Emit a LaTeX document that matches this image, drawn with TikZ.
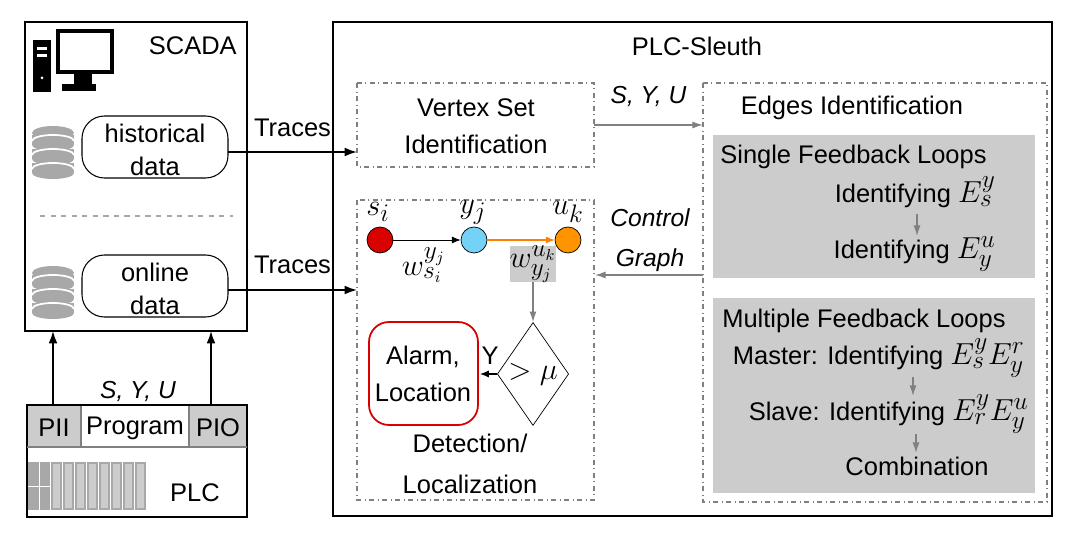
\documentclass[tikz,border=0pt]{standalone}
\usepackage{fontspec}
\setmainfont{Liberation Sans}
\usetikzlibrary{shapes.geometric,arrows.meta}
\definecolor{pgray}{gray}{0.8}
\definecolor{dbgray}{gray}{0.66}
\definecolor{lgray}{gray}{0.5}
\newcommand{\bm}[1]{{\fontsize{19}{21}\selectfont$#1$}}
\begin{document}
\begin{tikzpicture}[x=0.02cm,y=-0.02cm,
  txt/.style={font=\fontsize{14.5}{17}\selectfont,inner sep=0pt},
  itx/.style={font=\fontsize{14}{17}\selectfont\itshape,inner sep=0pt},
  box/.style={draw,line width=1pt},
  dd/.style={draw=lgray,dash dot,line width=0.6pt},
  arr/.style={-{Latex[length=7pt,width=5pt]},line width=1pt},
  garr/.style={-{Latex[length=6pt,width=4pt]},draw=lgray,line width=0.8pt},
  circ/.style={circle,draw,minimum size=0.52cm,inner sep=0pt},
  rbox/.style={draw,rounded corners=0.45cm,line width=0.6pt}]
\useasboundingbox (0,0) rectangle (1078,536);
% SCADA
\draw[box] (25,22) rectangle (247,331);
\node[txt,anchor=east] (scada) at (237,46) {SCADA};
% computer icon
\fill (33,40) rectangle (51,92);
\fill[white] (37,47) rectangle (47,50);\fill[white] (37,54) rectangle (47,57);\fill[white] (42,78) circle (1.5);
\draw[line width=2.4pt] (58,31) rectangle (112,72);
\fill (74,72) rectangle (92,84); \fill (62,84) rectangle (96,91);
% databases
\foreach \yy in {125,265}{
 \foreach \k in {0,1,2}{
  \fill[dbgray] (32,\yy+10+\k*14) rectangle (74,\yy+20+\k*14);
  \fill[dbgray] (53,\yy+20+\k*14) ellipse (21 and 6);}
 \fill[dbgray] (53,\yy+8) ellipse (21 and 7);
 \foreach \k in {0,1,2}{\draw[white,line width=1pt] (32,\yy+16+\k*14) arc[start angle=180,end angle=360,x radius=21,y radius=6];}
}
\draw[rbox] (82,116) rectangle (228,178);
\node[txt,align=center] (hist) at (155,150) {historical\\[2pt]data};
\draw[rbox] (82,255) rectangle (228,317);
\node[txt,align=center] (onl) at (155,289) {online\\[2pt]data};
\coordinate (hr) at (228,152); \coordinate (or) at (228,290);
\draw[dbgray,dashed,line width=0.6pt] (40,216) -- (233,216);
% PLC
\fill[pgray] (27,405) rectangle (81,447); \fill[pgray] (189,405) rectangle (247,447);
\draw[lgray,line width=0.6pt] (81,405) -- (81,447) (189,405) -- (189,447);
\draw[box] (27,405) rectangle (247,517);
\draw[lgray,line width=0.6pt] (27,447) -- (247,447);
\node[txt] at (54,428) {PII}; \node[txt] at (135,428) {Program}; \node[txt] at (218,428) {PIO};
\node[txt] (plc) at (195,493) {PLC};
\fill[dbgray] (28,462) rectangle (50,510);
\foreach \i in {0,...,7}{\draw[dbgray,fill=pgray,line width=1pt] (52+\i*12,463) rectangle (61+\i*12,509);}
\draw[white] (28,486) -- (50,486) (39,462) -- (39,510);
\coordinate (p1) at (53,405); \coordinate (p2) at (211,405);
\coordinate (s1) at (53,331); \coordinate (s2) at (211,331);
\draw[arr] (p1) -- (s1); \draw[arr] (p2) -- (s2);
\node[itx] at (138,391) {S, Y, U};
% Sleuth
\draw[box] (333,22) rectangle (1052,516);
\node[txt] at (697,46) {PLC-Sleuth};
\draw[dd] (357,83) rectangle (594,167);
\node[txt,align=center] (vs) at (476,126) {Vertex Set\\[4pt]Identification};
\coordinate (vsl) at (357,152); \coordinate (vsr) at (594,125);
\draw[dd] (703,83) rectangle (1047,502);
\coordinate (edl) at (703,125); \coordinate (edl2) at (703,275);
\node[txt] at (852,108) {Edges Identification};
\draw[dd] (357,200) rectangle (594,500);
\coordinate (ddl) at (357,290); \coordinate (ddr) at (595,275);
\draw[arr] (hr) -- (vsl) node[pos=0.5,txt,above=8pt] {Traces};
\draw[arr] (or) -- (ddl) node[pos=0.5,txt,above=9pt] {Traces};
\draw[garr] (vsr) -- (edl) node[pos=0.5,itx,above=10pt] {S, Y, U};
\draw[garr] (edl2) -- (ddr);
\node[itx,align=center] at (650,240) {Control\\[6pt]Graph};
% panels
\fill[pgray] (713,135) rectangle (1035,278);
\fill[pgray] (713,298) rectangle (1035,493);
\node[txt,anchor=west] at (720,157) {Single Feedback Loops};
\node[txt,anchor=base east] (a1) at (996,203) {Identifying \bm{E_s^y}};
\node[txt,anchor=base east] (a2) at (996,259) {Identifying \bm{E_y^u}};
\node[txt,anchor=west] at (722,321) {Multiple Feedback Loops};
\node[txt,anchor=base east] (b1) at (1025,365) {Master: Identifying \bm{E_s^yE_y^r}};
\node[txt,anchor=base east] (b2) at (1029,421) {Slave: Identifying \bm{E_r^yE_y^u}};
\node[txt] (b3) at (917,466) {Combination};
\draw[garr] (917,214) -- (917,236);
\draw[garr] (913,377) -- (913,396);
\draw[garr] (916,434) -- (916,453);
% graph
\node[circ,fill=red!85!black] (si) at (380,240) {};
\node[circ,fill=cyan!55!white] (yj) at (474,240) {};
\node[circ,fill=orange!85!yellow] (uk) at (568,240) {};
\node[txt] at (378,212) {\bm{s_i}}; \node[txt] at (473,212) {\bm{y_j}}; \node[txt] at (568,212) {\bm{u_k}};
\draw[-{Latex[length=5pt,width=4pt]},line width=0.5pt] (si) -- (yj) node[pos=0.45,below=4pt,txt] {\bm{w_{s_i}^{y_j}}};
\draw[-{Latex[length=5pt,width=4pt]},line width=0.6pt,orange] (yj) -- (uk);
\node[txt,fill=pgray,minimum width=0.86cm,minimum height=0.68cm] (w) at (533,264) {\bm{w_{y_j}^{u_k}}};
\node[diamond,draw,minimum width=1.42cm,minimum height=2.06cm,inner sep=0pt,font=\fontsize{15.5}{18}\selectfont] (dm) at (533,374) {\bm{>\mu}};
\draw[garr] (w) -- (dm);
\draw[red!85!black,line width=1pt,rounded corners=0.4cm] (369,322) rectangle (478,425);
\node[txt,align=center] (al) at (423,374) {Alarm,\\[4pt]Location};
\coordinate (alr) at (480,374);
\draw[-{Latex[length=5pt,width=4pt]},line width=0.6pt] (dm.west) -- (alr);
\node[txt] at (490,356) {Y};
\node[txt,align=center] at (470,464) {Detection/\\[6pt]Localization};
\end{tikzpicture}
\end{document}
